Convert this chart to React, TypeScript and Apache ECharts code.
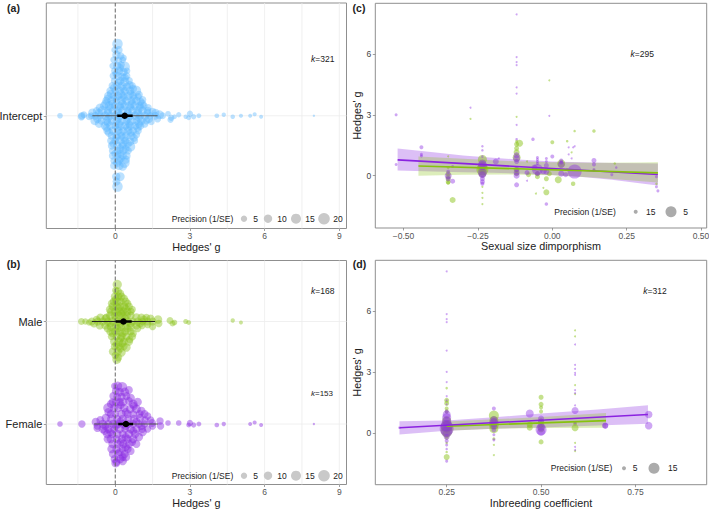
import React, { useEffect, useRef } from "react";
import * as echarts from "echarts";

const FONT = "'Liberation Sans', Arial, sans-serif";
const BLUE = "#5CB8FF";
const GREEN = "#8CC41C";
const PURPLE = "#8A2BE2";

// [Hedges' g, swarm offset, precision]
const interceptPoints: number[][] = [
  [0.09,72,14],[-0.02,66,6],[0.14,66,8],[0.05,61,9],[0.22,60,7],[-0.05,56,7],[0.12,55,8],[0.3,56,6],
  [-0.1,50,6],[0.08,50,9],[0.24,51,7],[0.38,49,14],[-0.02,45,7],[0.16,45,8],[0.33,44,9],[0.47,45,6],
  [-0.08,40,7],[0.1,40,9],[0.29,39,9],[0.45,40,8],[-0.04,35,6],[0.2,35,9],[0.38,34,11],[0.56,35,7],
  [-0.12,30,7],[0.07,30,8],[0.27,30,10],[0.47,29,9],[0.68,30,7],[-0.2,25,8],[0,25,7],[0.18,25,9],
  [0.39,25,8],[0.6,25,9],[0.83,25,14],[-0.28,20,9],[-0.08,20,7],[0.12,20,9],[0.32,20,8],[0.52,20,10],
  [0.72,20,8],[0.92,19,7],[-0.36,15,8],[-0.15,15,9],[0.05,15,8],[0.25,15,10],[0.45,15,9],[0.65,15,8],
  [0.85,15,9],[1.02,14,8],[-0.45,10,9],[-0.24,10,10],[-0.02,10,8],[0.18,10,9],[0.38,10,9],[0.58,10,10],
  [0.78,10,9],[0.98,10,8],[1.15,10,7],[-0.75,5,7],[-0.52,5,11],[-0.3,5,9],[-0.1,5,8],[0.1,5,9],
  [0.3,5,10],[0.5,5,8],[0.7,5,9],[0.9,5,10],[1.1,5,9],[1.3,5,8],[1.5,4,8],
  [-2.22,0,4],[-1.34,0,7],[-1.26,1,6],[-1.05,-1,6],[-0.96,0,6],[-0.8,0,8],[-0.6,0,7],[-0.4,0,9],[-0.2,0,8],
  [0,0,9],[0.2,0,9],[0.4,0,8],[0.6,0,9],[0.8,0,9],[1,0,8],[1.2,0,9],[1.4,0,7],[1.6,0,8],[1.78,1,10],
  [1.9,0,6],[2.12,2,4],[2.25,-2,5],[2.38,-1,3],[2.55,1,3.5],[2.83,-1,2.5],[2.95,-2,3],[3,2,5],[3.15,-1,3.5],
  [3.36,0,3],[4.08,0,2.8],[4.36,1,2.4],[4.72,-1,2.6],[5.05,0,2.2],[5.42,0,2],[5.6,1.5,2.2],[5.86,-1,2],[7.98,0,.7],
  [-1.36,-1,7],[-0.82,-5,10],[-0.55,-5,8],[-0.35,-5,9],[-0.15,-5,8],[0.05,-5,9],[0.25,-5,9],[0.45,-5,8],[0.65,-5,10],
  [0.85,-5,8],[1.05,-5,9],[1.25,-5,7],[1.45,-6,6],[1.7,-3,7],[2.22,-4,5],
  [-0.42,-10,9],[-0.2,-10,9],[0,-10,8],[0.2,-10,10],[0.4,-10,9],[0.6,-10,9],[0.8,-10,8],[1,-10,9],
  [-0.32,-15,8],[-0.1,-15,9],[0.12,-15,9],[0.32,-15,8],[0.52,-15,9],[0.72,-15,8],[0.92,-15,7],
  [-0.15,-20,8],[0.05,-20,9],[0.25,-20,8],[0.45,-20,9],[0.65,-20,9],[0.85,-19,7],
  [-0.18,-25,7],[0,-25,8],[0.2,-25,9],[0.4,-25,8],[0.6,-26,9],[0.78,-25,6],
  [-0.14,-30,8],[0.08,-30,9],[0.3,-30,8],[0.6,-31,13],[-0.12,-35,6],[0.1,-35,8],[0.32,-35,9],[0.52,-35,7],
  [-0.1,-40,8],[0.1,-40,7],[0.3,-40,9],[0.46,-40,8],[-0.05,-45,7],[0.14,-45,9],[0.37,-47,14],
  [-0.05,-50,8],[0.16,-50,10],[0.3,-51,9],[0.04,-61,9],[0.2,-61,10],[0.05,-66,8],[0.09,-71,14],
  [0.33,58,6],[0.2,48,8],[0.03,42,7],[0.38,38,9],[0.13,33,8],[0.58,31,8],[-0.04,28,9],[0.32,27,8],[0.72,27,8],
  [-0.18,22,8],[0.22,22,9],[0.62,22,8],[0.95,21,8],[-0.3,17,9],[0.03,18,8],[0.35,18,9],[0.75,17,8],[1.1,16,7],
  [-0.38,12,10],[-0.12,12,8],[0.28,12,9],[0.68,12,9],[1.08,12,9],[-0.62,8,9],[-0.2,8,8],[0.2,8,9],[0.6,8,8],[1,8,9],[1.32,8,7],
  [-0.92,3,9],[-0.65,3,8],[-0.3,2.5,9],[0.1,2.5,9],[0.5,2.5,8],[0.9,2.5,9],[1.3,3,8],[1.62,3,8],
  [-0.72,-3,9],[-0.28,-2.5,8],[0.12,-2.5,9],[0.52,-2.5,9],[0.95,-2.5,8],[1.35,-3,9],[-0.65,-8,9],[-0.3,-7,8],[0.15,-8,9],[0.55,-8,8],[0.95,-8,9],[1.18,-8,8],
  [-0.35,-12,9],[0.1,-12,8],[0.5,-12,9],[0.9,-12,9],[-0.25,-17,9],[0.22,-17,8],[0.62,-17,8],[0.05,-22,8],[0.35,-22,9],[0.75,-22,8],
  [-0.08,-28,8],[0.3,-28,9],[0.5,-28,9],[0.2,-33,9],[0.42,-33,8],[0,-38,8],[0.2,-38,9],[0.22,-43,8],[0.42,-44,9],[0.08,-47,9],
];

// [Hedges' g, swarm offset from the row, precision]
const malePoints: number[][] = [
  [0.08,37,11],[0.02,31,7],[0.1,30,9],[-0.02,25,8],[0.12,25,8],[0.25,25,8],[-0.06,20,8],[0.08,20,9],[0.22,20,8],[0.42,20,8],
  [-0.1,15,9],[0.05,15,8],[0.2,15,9],[0.35,15,9],[0.55,15,8],[-0.16,10,9],[0,10,9],[0.16,10,9],[0.32,10,9],[0.48,10,9],[0.63,10,7],
  [-0.2,6,9],[-0.02,6,8],[0.14,6,9],[0.3,6,9],[0.46,6,9],[0.62,6,8],[-0.6,4,8],[-0.38,3,9],[0.85,4,9],[1.05,4,8],[1.25,4,7],[1.42,3,8],[-0.75,2,7],
  [-1.36,0,6],[-1.2,0,5],[-1.05,-1,5],[-0.94,0,8],[-0.7,0,8],[-0.5,0,8],[-0.3,0,8],[-0.1,0,9],[0.1,0,9],[0.3,0,9],[0.5,0,8],[0.7,0,8],[0.9,0,8],[1.1,0,7],[1.3,0,8],[1.5,0,8],[1.72,2,9],[1.75,-2,7],
  [2.2,1,6],[2.3,-2,4.5],[2.38,-1,4],[2.83,0,3.2],[2.95,-1,3],[4.72,1,2.4],[5.05,-1,2],
  [-0.62,-4,8],[-0.4,-4,8],[-0.18,-5,9],[0.02,-5,8],[0.22,-5,9],[0.42,-5,8],[0.62,-5,9],[0.85,-4,8],[1.08,-4,7],[1.3,-3,7],[1.5,-5,7],
  [-0.2,-10,8],[0,-10,9],[0.2,-10,9],[0.4,-10,8],[0.62,-10,8],[-0.15,-15,7],[0.05,-15,8],[0.25,-15,9],[0.45,-15,8],[0.68,-15,8],
  [-0.05,-20,8],[0.15,-20,9],[0.35,-20,8],[0.55,-20,9],[-0.03,-25,7],[0.15,-25,8],[0.35,-25,7],[0.45,-26,9],[-0.1,-30,8],[0.1,-30,9],[0.25,-31,9],[0,-34,7],[0.12,-36,8],[0.06,-38,10],
  [0.2,28,8],[0.35,23,8],[0.02,22,8],[0.5,18,7],[-0.14,18,8],[0.12,13,9],[0.42,13,8],[-0.22,12,8],[0.68,12,7],[0.24,8,8],[-0.35,4,8],[0.02,3,8],[0.4,3,8],[1.15,2,8],[-0.85,-2,8],[-0.2,-2,8],[0.2,-2,9],[0.62,-2,8],[1.0,-2,8],
  [0.1,-7,8],[0.5,-7,8],[-0.3,-7,8],[0.9,-7,7],[-0.1,-12,8],[0.3,-12,8],[0.72,-12,7],[0.22,-17,8],[0.58,-18,7],[0.05,-23,8],[0.28,-22,8],[0.2,-27,8],
];

const femalePoints: number[][] = [
  [-0.03,38,6],[0.1,38,10],[0.28,37,13],[0.02,33,8],[0.18,32,9],[0.38,32,10],[-0.08,28,8],[0.08,27,8],[0.25,27,9],[0.45,28,8],
  [-0.12,22,7],[0.03,22,8],[0.18,22,8],[0.32,22,9],[0.55,23,8],[0.72,20,10],[-0.28,16,13],[-0.05,16,8],[0.12,16,8],[0.36,16,9],[0.6,15,9],[0.85,15,10],
  [-0.18,10,8],[0,10,7],[0.25,10,9],[0.5,10,8],[0.72,10,8],[0.98,10,8],[-0.38,6,9],[-0.15,5,10],[0.08,5,8],[0.3,5,9],[0.52,5,8],[0.75,5,9],[1,6,9],[1.2,4,7],[1.42,4,7],
  [-2.22,0,4],[-1.34,0,7],[-0.78,2,9],[-0.72,-2,7],[-0.5,0,9],[-0.28,0,8],[-0.08,0,9],[0.12,0,8],[0.32,0,9],[0.52,0,8],[0.72,0,8],[0.95,0,8],[1.18,0,7],[1.48,1,8],[1.5,-2,7],
  [1.8,3,7],[1.82,-2,7],[2.12,1,4],[2.55,1,4],[2.95,-1,3],[3,1,5],[3.15,-1,3.5],[3.36,0,3],[4.08,-1,2.8],[4.36,0,2.4],[5.42,0,2],[5.6,1.5,2.2],[5.86,-1,2],[7.98,0,.7],
  [-0.72,-4,8],[-0.5,-5,9],[-0.28,-5,8],[-0.05,-5,8],[0.18,-5,9],[0.4,-5,8],[0.62,-5,9],[0.85,-5,8],[1.08,-5,8],[1.3,-5,7],
  [-0.32,-10,9],[-0.12,-10,8],[0.08,-10,9],[0.3,-10,8],[0.55,-10,9],[0.8,-10,9],[-0.18,-15,9],[0.05,-15,8],[0.28,-15,9],[0.5,-15,8],[0.72,-15,9],
  [-0.12,-20,8],[0.1,-20,8],[0.32,-20,9],[0.56,-20,9],[-0.15,-25,9],[0.05,-25,9],[0.3,-25,8],[0.5,-25,8],[-0.1,-30,8],[0.12,-30,9],[0.38,-30,8],
  [-0.03,-35,8],[0.2,-35,9],[0.42,-33,10],[0.05,-38,8],[0.3,-37,9],[0.02,-39,10],
  [0.55,34,8],[0.62,26,9],[0.9,22,9],[0.22,19,8],[-0.18,20,8],[0.75,18,8],[1.05,13,9],[-0.28,12,8],[0.42,12,8],[1.18,10,8],[-0.6,4,8],[1.3,8,7],[0.2,2.5,8],[0.85,2.5,8],
  [-0.4,-2,8],[0.02,-2,8],[0.42,-2,8],[1.05,-2,8],[-0.42,-7,8],[0.72,-7,8],[-0.2,-8,8],[1.1,-8,9],[0.42,-13,8],[0.95,-13,9],[-0.3,-15,9],[0.22,-18,8],[0.68,-18,8],[0.85,-20,8],[0.42,-23,9],[0.18,-28,8],[0.62,-27,8],[0.3,-33,8],
];

// [x, y, marker weight]
const sizePurple: number[][] = [
  [-0.525,3,3],[-0.525,0.55,3],[-0.44,1.4,4],[-0.44,1.05,3],[-0.44,0.97,3],[-0.275,3.35,2],[-0.235,1.45,2.5],[-0.235,1.25,2.5],[-0.235,0.95,2.5],[-0.235,0.6,8],[-0.235,0.5,9],[-0.235,0.15,9],[-0.235,0.05,7],[-0.235,-0.15,5],[-0.235,-0.3,5],[-0.235,-0.4,4],
  [-0.19,0.7,6],[-0.18,0.85,2],[-0.335,0.45,3],[-0.335,-0.27,5],[-0.35,0,7],[-0.35,-0.15,5],[-0.35,0.2,4],
  [-0.12,7.95,2],[-0.12,5.85,2],[-0.12,5.6,2],[-0.12,5.45,2],[-0.12,4.35,2],[-0.12,4.05,2],[-0.12,2.5,2],[-0.12,1.8,2.5],[-0.12,1,6],[-0.12,0.85,7],[-0.12,0.7,5],[-0.12,0.3,5],[-0.12,0.15,6],[-0.12,0,6],[-0.12,-0.45,5],
  [-0.085,0.15,5],[-0.085,-0.25,2],[-0.065,1.8,3.5],[-0.05,0.9,3],[-0.05,0.8,3],[-0.05,0.7,3],[-0.05,0.6,3],[-0.05,0.3,11],[-0.05,0.1,5],[-0.06,0.4,6],[-0.03,0.25,7],
  [-0.02,-1.4,3.5],[-0.01,2.95,2],[-0.02,0.85,3],[-0.02,0.7,3],[-0.02,0.5,5],[-0.02,0.2,6],[0,0.95,4],[0.03,0.75,4],[0.03,0.65,4],[0.03,0.55,7],[0.03,0.1,6],[0.045,0.05,5],[0.055,1.4,2],[0.055,1.05,2],[0.065,0.85,2],[0.07,1.4,2],[0.075,1.45,2],[0.075,0.2,14],[0.14,0.75,5],[0.14,0.55,4],[0.14,0.3,3],[0.2,0.05,3],[0.215,0.4,2.5],[0.35,-0.05,3],[0.35,-0.55,3],[0.355,-0.75,3],
];

const sizeGreen: number[][] = [
  [-0.275,2.8,2],[-0.35,0.95,2],[-0.35,0.4,3],[-0.35,0.1,5],[-0.35,-0.05,5],[-0.35,-0.15,5],[-0.35,-0.3,5],[-0.35,-0.35,4],[-0.335,-1.2,6],[-0.235,0.8,9],[-0.235,0.4,10],[-0.235,0.3,12],[-0.235,0.1,8],[-0.235,-0.55,2],[-0.235,-0.85,2],[-0.235,-1.1,2],[-0.235,-1.4,2],
  [-0.12,2.9,2],[-0.12,1.7,3],[-0.12,1.55,5],[-0.12,1.35,5],[-0.12,1.15,6],[-0.11,1.6,7],[-0.12,0.9,8],[-0.12,0.3,6],[-0.12,0.1,5],[-0.085,0.7,2],[-0.08,0.05,5],[-0.055,-0.88,2],[-0.05,0.1,5],[-0.05,-0.05,5],[-0.01,4.7,2],[0,1.65,4],[-0.03,-0.6,2],[-0.02,-0.82,6],[-0.02,-0.15,5],[-0.01,0.1,5],[0.02,-0.2,7],[0.07,-0.4,4.5],[0.05,1.7,2.5],[0.065,1.15,2],[0.075,2.2,2.5],[0.14,2.2,3.5],[0.14,0.25,3],[0.21,0.6,2.5],[0.35,-0.4,2.5],[0.03,0.6,8],[0.05,0.3,3],
];

const inbreedPurple: number[][] = [
  [0.125,0.25,2.5],[0.25,7.95,2],[0.25,5.85,2],[0.25,5.6,2],[0.25,5.45,2],[0.25,4.05,2],[0.25,3,2],[0.25,2.5,2],[0.25,1.8,2],[0.25,1.6,2],[0.25,1.4,2],[0.25,1.05,4],[0.25,0.9,8],[0.25,0.75,9],[0.25,0.55,9],[0.25,0.35,12],[0.25,0.2,14],[0.25,0.05,11],[0.25,-0.2,6],[0.25,-0.4,4],[0.25,-0.6,3],[0.25,-0.8,2.5],[0.25,-1.4,3],
  [0.375,1.2,4],[0.375,0.65,7],[0.375,0.5,9],[0.375,0.35,7],[0.375,0.15,5],[0.375,-0.35,3],[0.375,-0.1,3],[0.47,0.95,8],[0.5,0.7,6],[0.5,0.55,6],[0.5,0.3,8],[0.5,0.15,11],[0.5,0.05,8],
  [0.59,4.35,2],[0.59,3.35,2],[0.59,3.15,2],[0.59,2.95,2],[0.59,2.85,2],[0.59,2.1,2],[0.59,1.95,2],[0.59,1.35,2],[0.59,1.1,7],[0.59,0.5,3],[0.59,-0.7,2],[0.59,-0.85,2],[0.67,0.35,6],[0.67,0.35,6],[0.785,0.9,7.5],[0.785,0.35,7.5],
];

const inbreedGreen: number[][] = [
  [0.25,2.2,2.5],[0.25,1.6,5],[0.25,1.45,5],[0.25,1.2,4],[0.25,1.05,4],[0.25,0.6,9],[0.25,0.3,12],[0.25,0.1,12],[0.25,-0.05,8],[0.25,-0.25,4],[0.25,-0.5,2.5],[0.25,-0.95,2.5],[0.25,-1.2,6],
  [0.375,0.85,10],[0.375,0.6,9],[0.375,0.4,10],[0.375,0.2,9],[0.375,-0.3,3],[0.375,-0.6,2],[0.375,-1.1,2],[0.47,0.4,6],[0.47,0.25,6],[0.5,1.75,5],[0.5,1.4,5],[0.5,1.25,4],[0.5,1.05,4],[0.5,0.55,6],[0.5,0.4,6],[0.5,0.2,7],[0.5,-0.45,5],
  [0.59,5.05,2],[0.59,4.75,2],[0.59,2.35,2],[0.59,1.9,2],[0.59,0.45,4],[0.59,0.25,7],[0.59,-0.5,2],[0.59,-0.9,2],
];

// regression lines [x, y]
const sizeLinePurple = [[-0.52,0.78],[0.355,0.06]];
const sizeLineGreen = [[-0.45,0.48],[0.355,0.14]];
const inbreedLinePurple = [[0.125,0.25],[0.783,0.9]];
const inbreedLineGreen = [[0.25,0.32],[0.672,0.6]];

// ribbons [x, low, high]
const sizeBandPurple = [[-0.52,0.25,1.34],[-0.4,0.2,1.16],[-0.3,0.17,1.0],[-0.2,0.14,0.88],[-0.1,0.1,0.78],[0,0.03,0.7],[0.1,-0.06,0.66],[0.2,-0.2,0.63],[0.3,-0.38,0.61],[0.355,-0.48,0.6]];
const sizeBandGreen = [[-0.45,0,0.95],[-0.3,0.04,0.84],[-0.15,0.06,0.72],[0,0.02,0.66],[0.15,-0.1,0.64],[0.3,-0.28,0.65],[0.355,-0.34,0.66]];
const inbreedBandPurple = [[0.125,-0.08,0.57],[0.25,0.1,0.6],[0.375,0.2,0.76],[0.5,0.26,0.95],[0.65,0.36,1.15],[0.783,0.44,1.36]];
const inbreedBandGreen = [[0.25,0.1,0.56],[0.375,0.2,0.66],[0.5,0.24,0.78],[0.672,0.25,0.98]];

// forest summaries [mean, ciLow, ciHigh, piLow, piHigh]
const interceptSummary = [0.38, 0.08, 0.7, -0.92, 1.7];
const maleSummary = [0.33, 0.02, 0.66, -0.94, 1.6];
const femaleSummary = [0.43, 0.12, 0.72, -0.85, 1.72];

const gTicks = [0, 3, 6, 9];
const gGrid = [-1.5, 1.5, 3, 4.5, 6, 7.5, 9];
const hedgesTicks = [0, 3, 6];
const dimorphismTicks = [-0.5, -0.25, 0, 0.25, 0.5];
const inbreedingTicks = [0.25, 0.5, 0.75];
const legendLevels = ["5", "10", "15", "20"];
const MALE_ROW = 163;
const FEMALE_ROW = 60.5;

const LINE = "#8f8f8f";
const xBase = (i: number, title: string, ticks: number[], min: number, max: number, fmt: (v: number) => string, gap: number) => ({
  type: "value", gridIndex: i, min, max, name: title, nameLocation: "middle", nameGap: gap,
  nameTextStyle: { fontFamily: FONT, fontSize: 10.8, color: "#222" },
  axisLine: { show: false, onZero: false }, splitLine: { show: false }, minorTick: { show: false },
  axisTick: { show: true, length: 2.5, customValues: ticks, lineStyle: { color: "#777", width: 0.7 } },
  axisLabel: { customValues: ticks, formatter: fmt, margin: 3, fontFamily: FONT, fontSize: 8.5, color: "#555" },
});
const yBase = (i: number, ticks: number[], min: number, max: number, fmt: (v: number) => string, opts: any) => ({
  type: "value", gridIndex: i, min, max,
  axisLine: { show: false, onZero: false }, splitLine: { show: false },
  axisTick: { show: true, length: 2.5, customValues: ticks, lineStyle: { color: "#777", width: 0.7 } },
  axisLabel: { customValues: ticks, formatter: fmt, margin: 4, fontFamily: FONT, fontSize: 8.5, color: "#444" },
  ...opts,
});

const scatter = (i: number, rows: number[][], color: number | string, size: (w: number) => number, opacity: number, z = 3) => ({
  type: "scatter", xAxisIndex: i, yAxisIndex: i, data: rows, z, silent: true,
  symbolSize: (v: number[]) => size(v[2]),
  itemStyle: { color, opacity, borderWidth: 0 },
});
const segment = (i: number, pts: number[][], color: string, width: number, z: number, type = "solid", opacity = 1) => ({
  type: "line", xAxisIndex: i, yAxisIndex: i, data: pts, symbol: "none", z, silent: true,
  lineStyle: { color, width, type, opacity, cap: "butt" },
});
const band = (i: number, rows: number[][], color: string, opacity: number) => ({
  type: "custom", xAxisIndex: i, yAxisIndex: i, data: rows.map((r) => [r[0], r[1], r[2]]), z: 2, silent: true,
  encode: { x: 0, y: [1, 2] },
  renderItem: (p: any, api: any) => {
    if (p.dataIndex !== 0) return null;
    const top = rows.map((r) => api.coord([r[0], r[2]]));
    const bottom = rows.slice().reverse().map((r) => api.coord([r[0], r[1]]));
    return { type: "polygon", shape: { points: top.concat(bottom) }, style: { fill: color, opacity } };
  },
});
const forest = (i: number, s: number[], y: number, piColor: string) => [
  segment(i, [[s[3], y], [s[4], y]], piColor, 1.1, 6),
  segment(i, [[s[1], y], [s[2], y]], "#000", 2.4, 7),
  { type: "scatter", xAxisIndex: i, yAxisIndex: i, data: [[s[0], y]], symbolSize: 6.5, z: 8, silent: true, itemStyle: { color: "#000", opacity: 1 } },
];

const swarmSize = (p: number) => 2.8 * Math.sqrt(p);
const weightSize = (w: number) => w;

const label = (text: string, x: number, y: number, size: number, extra: any = {}) => ({
  type: "text", x, y, z: 20, silent: true,
  style: { text, fontFamily: FONT, fontSize: size, fill: "#222", align: "center", verticalAlign: "middle", ...extra },
});
const kLabel = (n: string, x: number, y: number, size: number) => ({
  type: "text", x, y, z: 20, silent: true,
  style: {
    text: `{i|k}{n|=${n}}`, align: "center", verticalAlign: "middle",
    rich: {
      i: { fontFamily: FONT, fontSize: size, fontStyle: "italic", fill: "#222" },
      n: { fontFamily: FONT, fontSize: size, fill: "#222" },
    },
  },
});
const dot = (x: number, y: number, r: number, fill: string) => ({
  type: "circle", x, y, z: 20, silent: true, shape: { cx: 0, cy: 0, r }, style: { fill },
});
const swarmLegend = (y: number) => [
  label("Precision (1/SE)", 202.5, y, 8.5),
  dot(244, y, 3.2, "#c9c9c9"), label(legendLevels[0], 255.5, y, 8.5),
  dot(268, y, 4.2, "#c9c9c9"), label(legendLevels[1], 282, y, 8.5),
  dot(296, y, 5, "#c9c9c9"), label(legendLevels[2], 310, y, 8.5),
  dot(324, y, 5.8, "#c9c9c9"), label(legendLevels[3], 338, y, 8.5),
];

const gFmt = (v: number) => String(v);
const signed = (v: number) => (v < 0 ? "\u2212" : "") + Math.abs(v).toFixed(2);

export default function App() {
  const ref = useRef<HTMLDivElement>(null);
  useEffect(() => {
    const chart = echarts.init(ref.current!, null, { renderer: "svg" });
    const gridBox = { show: true, borderColor: LINE, borderWidth: 1, backgroundColor: "#fff", outerBoundsMode: "none" };
    const guides = (i: number, lo: number, hi: number) =>
      gGrid.map((g) => segment(i, [[g, lo], [g, hi]], "#ececec", 0.8, 1));
    const zero = (i: number, lo: number, hi: number) => segment(i, [[0, lo], [0, hi]], "#666", 1, 5, "dashed");
    chart.setOption({
      animation: false,
      backgroundColor: "#fff",
      grid: [
        { left: 46.3, width: 300.2, top: 3, height: 225.5, ...gridBox },
        { left: 46.3, width: 300.2, top: 260.5, height: 224, ...gridBox },
        { left: 375.3, width: 331.4, top: 3.3, height: 224.7, ...gridBox },
        { left: 375.3, width: 331.4, top: 260.3, height: 224.4, ...gridBox },
      ],
      xAxis: [
        xBase(0, "Hedges' g", gTicks, -2.77, 9.29, gFmt, 12),
        xBase(1, "Hedges' g", gTicks, -2.77, 9.29, gFmt, 12),
        xBase(2, "Sexual size dimporphism", dimorphismTicks, -0.595, 0.519, signed, 12),
        xBase(3, "Inbreeding coefficient", inbreedingTicks, 0.061, 0.9386, signed, 12),
      ],
      yAxis: [
        yBase(0, [0], -113, 113, () => "Intercept", { axisLabel: { customValues: [0], formatter: () => "Intercept", margin: 4, fontFamily: FONT, fontSize: 11, color: "#222" } }),
        yBase(1, [FEMALE_ROW, MALE_ROW], 0, 224, (v: number) => (v > 100 ? "Male" : "Female"), { axisLabel: { customValues: [FEMALE_ROW, MALE_ROW], formatter: (v: number) => (v > 100 ? "Male" : "Female"), margin: 4, fontFamily: FONT, fontSize: 11, color: "#222" } }),
        yBase(2, hedgesTicks, -2.58, 8.5, gFmt, { name: "Hedges' g", nameLocation: "middle", nameGap: 8, nameTextStyle: { fontFamily: FONT, fontSize: 10.8, color: "#222" } }),
        yBase(3, hedgesTicks, -2.56, 8.5, gFmt, { name: "Hedges' g", nameLocation: "middle", nameGap: 8, nameTextStyle: { fontFamily: FONT, fontSize: 10.8, color: "#222" } }),
      ],
      series: [
        ...guides(0, -113, 113),
        segment(0, [[-2.77, 0], [9.29, 0]], "#ececec", 0.8, 1),
        scatter(0, interceptPoints, BLUE, swarmSize, 0.42),
        zero(0, -113, 113),
        ...forest(0, interceptSummary, 0, "#555"),

        ...guides(1, 0, 224),
        segment(1, [[-2.77, MALE_ROW], [9.29, MALE_ROW]], "#ececec", 0.8, 1),
        segment(1, [[-2.77, FEMALE_ROW], [9.29, FEMALE_ROW]], "#ececec", 0.8, 1),
        scatter(1, malePoints.map((r) => [r[0], r[1] + MALE_ROW, r[2]]), GREEN, swarmSize, 0.45),
        scatter(1, femalePoints.map((r) => [r[0], r[1] + FEMALE_ROW, r[2]]), PURPLE, swarmSize, 0.45),
        zero(1, 0, 224),
        ...forest(1, maleSummary, MALE_ROW, "#222"),
        ...forest(1, femaleSummary, FEMALE_ROW, "#555"),

        band(2, sizeBandPurple, PURPLE, 0.3),
        band(2, sizeBandGreen, GREEN, 0.3),
        scatter(2, sizeGreen, GREEN, weightSize, 0.5),
        scatter(2, sizePurple, PURPLE, weightSize, 0.42),
        segment(2, sizeLinePurple, "#8A22E0", 1.6, 6),
        segment(2, sizeLineGreen, "#86C20E", 1.6, 7),

        band(3, inbreedBandPurple, PURPLE, 0.3),
        band(3, inbreedBandGreen, GREEN, 0.3),
        scatter(3, inbreedGreen, GREEN, weightSize, 0.5),
        scatter(3, inbreedPurple, PURPLE, weightSize, 0.42),
        segment(3, inbreedLineGreen, "#86C20E", 1.6, 6),
        segment(3, inbreedLinePurple, "#8A22E0", 1.6, 7),
      ],
      graphic: [
        label("(a)", 13.5, 7.5, 10.5, { fontWeight: "bold" }),
        label("(b)", 13.5, 264, 10.5, { fontWeight: "bold" }),
        label("(c)", 359, 7.5, 10.5, { fontWeight: "bold" }),
        label("(d)", 359.5, 264, 10.5, { fontWeight: "bold" }),
        kLabel("321", 322.7, 59.3, 8.5),
        kLabel("168", 322.7, 290.7, 8.5),
        kLabel("153", 322, 393.7, 8),
        kLabel("295", 642.3, 54.3, 8.5),
        kLabel("312", 655, 291, 8.5),
        ...swarmLegend(218.7),
        ...swarmLegend(475.7),
        label("Precision (1/SE)", 585, 211.7, 8.5),
        dot(635.7, 211.7, 2, "#ababab"), label("15", 650.7, 211.7, 8.5),
        dot(671, 211.7, 5.5, "#ababab"), label("5", 685.7, 211.7, 8.5),
        label("Precision (1/SE)", 581.5, 468.3, 8.5),
        dot(624, 468.3, 2, "#ababab"), label("5", 635, 468.3, 8.5),
        dot(654, 468.3, 5.5, "#ababab"), label("15", 672.7, 468.3, 8.5),
      ],
    });
    return () => chart.dispose();
  }, []);
  return <div ref={ref} style={{ position: "fixed", left: 0, top: 0, width: 709, height: 512 }} />;
}
